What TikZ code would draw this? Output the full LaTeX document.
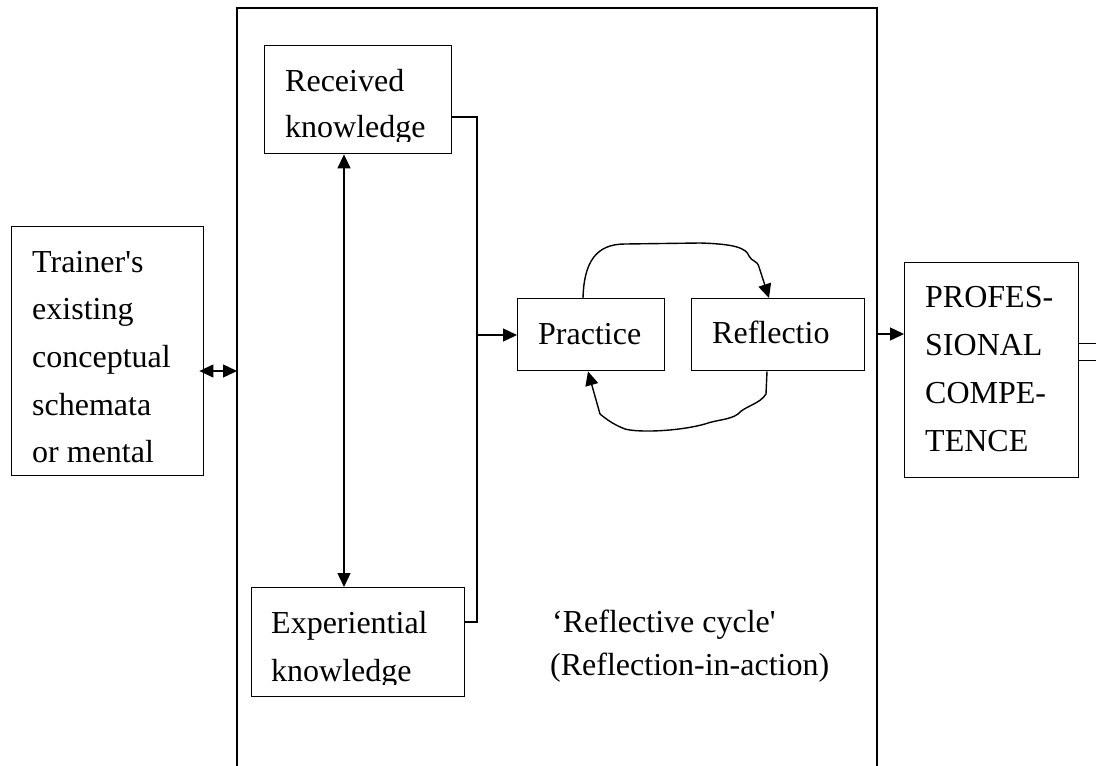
\documentclass[tikz,border=0pt]{standalone}
\usepackage{fontspec}
\setmainfont{Liberation Serif}[Ligatures=TeXOff]
\usetikzlibrary{arrows.meta,calc}
\begin{document}
\begin{tikzpicture}[x=1pt,y=-1pt,
  box/.style={draw,line width=1.4pt,inner sep=0pt,anchor=north west},
  txt/.style={anchor=base west,inner sep=0pt,font=\fontsize{32}{48}\selectfont},
  ln/.style={line width=1.4pt},
  arr/.style={ln,-{Triangle[length=14pt,width=13pt]}},
  darr/.style={ln,{Triangle[length=14pt,width=13pt]}-{Triangle[length=14pt,width=13pt]}}]
\useasboundingbox (0,0) rectangle (1096,766);
% big frame
\coordinate (bl) at (237,780);
\coordinate (btl) at (237,8);
\coordinate (btr) at (877,8);
\coordinate (br) at (877,780);
\draw[ln] (bl) -- (btl) -- (btr) -- (br);
% boxes
\node[box,minimum width=192pt,minimum height=249pt] (trainer) at (11,226) {};
\node[box,minimum width=187pt,minimum height=108pt] (recv) at (264,45) {};
\node[box,minimum width=213pt,minimum height=109pt] (exp) at (251,587) {};
\node[box,minimum width=147pt,minimum height=72pt] (prac) at (517,298) {};
\node[box,minimum width=173pt,minimum height=72pt] (refl) at (691,298) {};
\node[box,minimum width=174pt,minimum height=215pt] (prof) at (904,262) {};
\node[box,minimum width=40pt,minimum height=17pt] (extra) at (1078,343) {};
% texts
\node[txt] (ttrainer) at (32,272) {\vtop{\baselineskip=47.7pt\hbox{Trainer's}\hbox{existing}\hbox{conceptual}\hbox{schemata}\hbox{or mental}}};
\begin{scope}
\clip (264,45) rectangle (451,141);
\node[txt] (trecv) at (285,91) {\vtop{\baselineskip=46pt\hbox{Received}\hbox{knowledge}}};
\end{scope}
\begin{scope}
\clip (251,587) rectangle (464,684);
\node[txt] (texp) at (271,633) {\vtop{\baselineskip=48pt\hbox{Experiential}\hbox{knowledge}}};
\end{scope}
\node[txt] (tprac) at (538,344) {Practice};
\node[txt] (trefl) at (712,343) {Reflectio};
\node[txt] (tprof) at (925,307) {\vtop{\baselineskip=48.3pt\hbox{PROFES-}\hbox{SIONAL}\hbox{COMPE-}\hbox{TENCE}}};
\node[txt] (tcyc) at (552,632) {\vtop{\baselineskip=43pt\hbox{‘Reflective cycle'}\hbox{\kern-2pt(Reflection-in-action)}}};
% connectors
\coordinate (lfr) at (237,371);
\draw[darr] ($(trainer.east|-lfr)+(-5,0)$) -- (lfr);
\draw[darr] (recv.south-|344,0) -- (exp.north-|344,0);
\coordinate (vx) at (477,117);
\coordinate (vb) at (477,622);
\draw[ln] (recv.east|-vx) -- (vx) -- (vb) -- (exp.east|-vb);
\coordinate (pin) at (477,335);
\draw[arr] (pin) -- (prac.west|-pin);
\coordinate (rout) at (877,334);
\draw[arr] (rout) -- (prof.west|-rout);
% cycle curves
\draw[arr] ($(prac.north west)+(66,0)$) .. controls (584,262) and (596,244) .. (625,244)
  -- (700,243) .. controls (735,244) and (746,248) .. (749,256)
  .. controls (752,262) and (757,260) .. (759,267) -- ($(refl.north west)+(78,0)$);
\draw[arr] ($(refl.south west)+(76,0)$) -- (766,394) .. controls (760,404) and (745,406) .. (738,414)
  .. controls (730,420) and (715,420) .. (705,424)
  .. controls (680,431) and (640,433) .. (625,429)
  .. controls (612,424) and (605,418) .. (600,414) -- ($(prac.south west)+(71,0)$);
\end{tikzpicture}
\end{document}
